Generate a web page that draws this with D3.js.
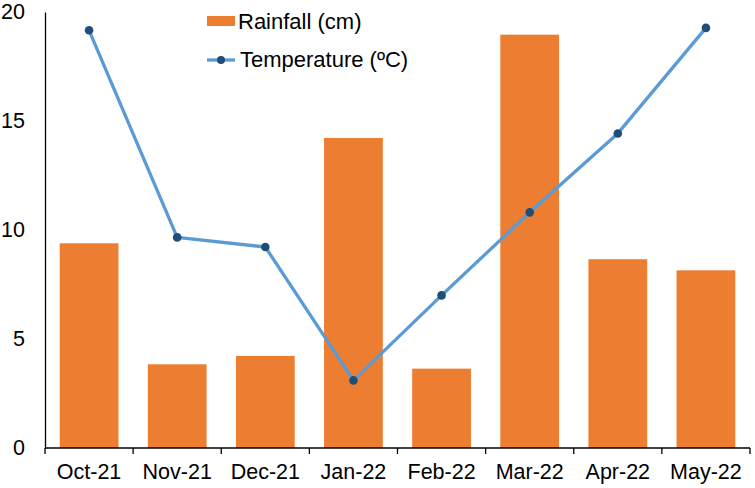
<!DOCTYPE html>
<html><head><meta charset="utf-8">
<script src="https://cdn.jsdelivr.net/npm/d3@7"></script>
<style>body{margin:0;background:#fff}svg{display:block}text{font-family:"Liberation Sans",Arial,sans-serif;fill:#000}</style>
</head><body>
<svg id="c" width="755" height="488"></svg>
<script>
const categories = ["Oct-21","Nov-21","Dec-21","Jan-22","Feb-22","Mar-22","Apr-22","May-22"];
const rainfall = [9.39, 3.84, 4.22, 14.22, 3.64, 18.96, 8.66, 8.15];
const temperature = [19.16, 9.66, 9.22, 3.1, 7.0, 10.81, 14.43, 19.27];
const yTicks = [0, 5, 10, 15, 20];
const legendLabels = ["Rainfall (cm)", "Temperature (ºC)"];

const svg = d3.select("#c");
const L = 45, R = 750, T = 12, B = 448;
const x = d3.scaleBand().domain(categories).range([L, R]).paddingInner(0.333).paddingOuter(0.1667);
const xb = d3.scaleBand().domain(categories).range([L, R]);
const y = d3.scaleLinear().domain([0, 20]).range([B, T]);

// bars
svg.append("g").selectAll("rect").data(rainfall).join("rect")
  .attr("x", (d,i) => x(categories[i])).attr("width", x.bandwidth())
  .attr("y", d => y(d)).attr("height", d => B - y(d)).attr("fill", "#ED7D31");

// y axis
const ya = svg.append("g").attr("transform", `translate(${L},0)`)
  .call(d3.axisLeft(y).tickValues(yTicks).tickSize(0).tickPadding(20));
ya.select(".domain").attr("stroke", "#000").attr("stroke-width", 1.3);
ya.selectAll("text").style("font-size", "21.5px").attr("font-family", null);

// x axis
const xa = svg.append("g").attr("transform", `translate(0,${B})`)
  .call(d3.axisBottom(xb).tickSize(0).tickPadding(16));
xa.select(".domain").remove();
xa.selectAll("text").style("font-size", "21.5px").attr("font-family", null);
xa.append("line").attr("x1", L).attr("x2", R).attr("stroke", "#000").attr("stroke-width", 1.3);
const bounds = categories.map(c => xb(c)).concat([R]);
xa.selectAll(".bt").data(bounds).join("line").attr("class","bt")
  .attr("x1", d => d).attr("x2", d => d).attr("y1", 0).attr("y2", 6)
  .attr("stroke", "#000").attr("stroke-width", 1.3);

// line
const cx = c => xb(c) + xb.bandwidth()/2;
const line = d3.line().x((d,i) => cx(categories[i])).y(d => y(d));
svg.append("path").datum(temperature).attr("d", line)
  .attr("fill", "none").attr("stroke", "#5B9BD5").attr("stroke-width", 3.3).attr("stroke-linejoin","round");
svg.append("g").selectAll("circle").data(temperature).join("circle")
  .attr("cx", (d,i) => cx(categories[i])).attr("cy", d => y(d)).attr("r", 4.3).attr("fill", "#1F4E79");

// legend
const lg = svg.append("g");
lg.append("rect").attr("x", 207).attr("y", 16).attr("width", 28).attr("height", 10).attr("fill", "#ED7D31");
lg.append("text").attr("x", 238).attr("y", 29).style("font-size", "22px").text(legendLabels[0]);
lg.append("line").attr("x1", 207).attr("x2", 235).attr("y1", 60).attr("y2", 60).attr("stroke", "#5B9BD5").attr("stroke-width", 3.3);
lg.append("circle").attr("cx", 221).attr("cy", 60).attr("r", 4).attr("fill", "#1F4E79");
lg.append("text").attr("x", 240).attr("y", 67).style("font-size", "22px").text(legendLabels[1]);
</script>
</body></html>
